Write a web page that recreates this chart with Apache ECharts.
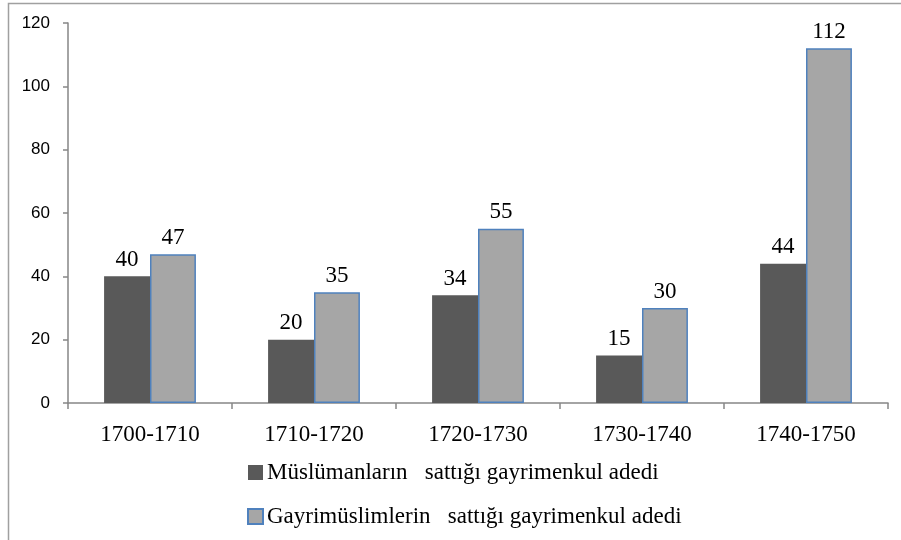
<!doctype html>
<html>
<head>
<meta charset="UTF-8">
<title></title>
<script src="https://cdn.jsdelivr.net/npm/echarts@6/dist/echarts.min.js"></script>
<style>
	html, body { margin: 0; padding: 0; background: #ffffff; }
	#chart { width: 901px; height: 540px; }
</style>
</head>
<body>
<div id="chart"></div>
<script>
var periods = ['1700-1710', '1710-1720', '1720-1730', '1730-1740', '1740-1750'];
var muslimSales = [40, 20, 34, 15, 44];
var nonMuslimSales = [47, 35, 55, 30, 112];
var yTicks = [0, 20, 40, 60, 80, 100, 120];

var seriesNames = [
	'Müslümanların   sattığı gayrimenkul adedi',
	'Gayrimüslimlerin   sattığı gayrimenkul adedi'
];

var chart = echarts.init(document.getElementById('chart'));

var labelStyle = {
	show: true,
	position: 'top',
	distance: 5,
	fontFamily: 'Liberation Serif',
	fontSize: 23,
	color: '#000000'
};

var option = {
	backgroundColor: '#ffffff',
	animation: false,
	graphic: [{
		type: 'rect',
		shape: { x: 8.5, y: 3.5, width: 1000, height: 600 },
		style: { fill: 'none', stroke: '#a0a0a0', lineWidth: 1.5 },
		silent: true
	}],
	grid: {
		left: 68,
		right: 13,
		top: 23,
		bottom: 137,
		containLabel: false
	},
	legend: {
		orient: 'vertical',
		left: 242,
		top: 456,
		itemGap: 21,
		itemWidth: 15,
		itemHeight: 15,
		icon: 'rect',
		textStyle: {
			fontFamily: 'Liberation Serif',
			fontSize: 23,
			color: '#000000',
			padding: [0, 0, 0, -1]
		},
		data: seriesNames
	},
	xAxis: {
		type: 'category',
		data: periods,
		axisLine: { lineStyle: { color: '#868686', width: 1.5 } },
		axisTick: { show: true, length: 6, lineStyle: { color: '#868686', width: 1.5 } },
		axisLabel: {
			margin: 20,
			fontFamily: 'Liberation Serif',
			fontSize: 23,
			color: '#000000'
		}
	},
	yAxis: {
		type: 'value',
		min: 0,
		max: 120,
		interval: 20,
		axisLine: { show: true, lineStyle: { color: '#868686', width: 1.5 } },
		axisTick: { show: true, length: 5, lineStyle: { color: '#868686', width: 1.5 } },
		splitLine: { show: false },
		axisLabel: {
			margin: 18,
			fontFamily: 'Liberation Sans',
			fontSize: 17,
			color: '#000000',
			formatter: function (v) { return yTicks.indexOf(v) >= 0 ? String(v) : ''; }
		}
	},
	series: [
		{
			name: seriesNames[0],
			type: 'bar',
			barWidth: '28%',
			barGap: '0%',
			itemStyle: { color: '#595959' },
			label: labelStyle,
			data: muslimSales
		},
		{
			name: seriesNames[1],
			type: 'bar',
			barWidth: '28%',
			itemStyle: { color: '#a6a6a6', borderColor: '#4f81bd', borderWidth: 1.5 },
			label: labelStyle,
			data: nonMuslimSales
		}
	]
};

chart.setOption(option);
</script>
</body>
</html>
